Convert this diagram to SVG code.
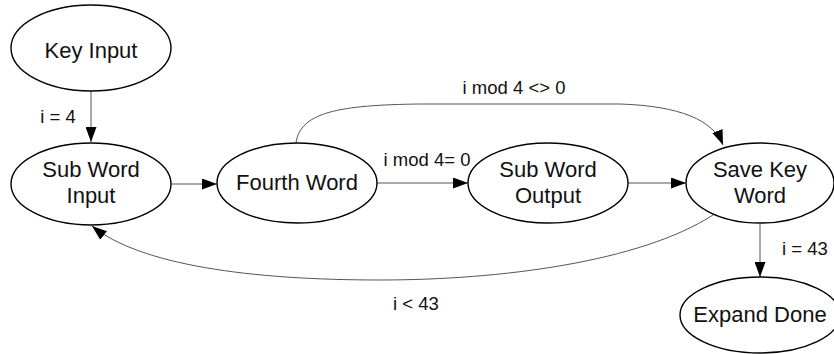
<svg xmlns="http://www.w3.org/2000/svg" width="834" height="354" viewBox="0 0 834 354">
  <defs>
    <marker id="arrow" viewBox="0 0 15 11" refX="15" refY="5.5" markerWidth="15" markerHeight="11" markerUnits="userSpaceOnUse" orient="auto">
      <path d="M0,0 L15,5.5 L0,11 Z" fill="#000"/>
    </marker>
  </defs>
  <style>
    .node ellipse { fill: #fff; stroke: #000; stroke-width: 1.4; }
    .node text { font-family: "Liberation Sans", Arial, sans-serif; font-size: 22px; fill: #111; text-anchor: middle; }
    .edges path { fill: none; stroke: #555; stroke-width: 1; marker-end: url(#arrow); }
    .edges text { font-family: "Liberation Sans", Arial, sans-serif; font-size: 18.5px; fill: #111; text-anchor: middle; }
  </style>
  <rect width="834" height="354" fill="#fff"/>

  <g class="edges" id="edges">
    <path d="M91,91 L91,142"/>
    <text x="58" y="123">i = 4</text>
    <path d="M171,184 L217,184"/>
    <path d="M377,183 L468,183"/>
    <text x="427" y="166">i mod 4= 0</text>
    <path d="M628,183 L686,183"/>
    <path d="M296,143 C300,112 340,105 420,104 L620,104 C680,106 713,120 723,145"/>
    <text x="514" y="94">i mod 4 &lt;&gt; 0</text>
    <path d="M760,224 L760,277"/>
    <text x="805" y="255">i = 43</text>
    <path d="M713,215 C640,262 500,280 380,280 C250,280 140,265 92,226"/>
    <text x="416" y="310">i &lt; 43</text>
  </g>

  <g class="node" id="key-input">
    <ellipse cx="91" cy="48" rx="80" ry="43"/>
    <text x="91" y="58">Key Input</text>
  </g>
  <g class="node" id="sub-word-input">
    <ellipse cx="91" cy="184" rx="80" ry="41"/>
    <text x="91" y="177">Sub Word</text>
    <text x="91" y="203">Input</text>
  </g>
  <g class="node" id="fourth-word">
    <ellipse cx="297" cy="183" rx="80" ry="40"/>
    <text x="297" y="190">Fourth Word</text>
  </g>
  <g class="node" id="sub-word-output">
    <ellipse cx="548" cy="183" rx="80" ry="40"/>
    <text x="548" y="177">Sub Word</text>
    <text x="548" y="203">Output</text>
  </g>
  <g class="node" id="save-key-word">
    <ellipse cx="760" cy="183" rx="74" ry="40"/>
    <text x="760" y="177">Save Key</text>
    <text x="760" y="203">Word</text>
  </g>
  <g class="node" id="expand-done">
    <ellipse cx="760" cy="315" rx="80" ry="38"/>
    <text x="760" y="322">Expand Done</text>
  </g>
</svg>
